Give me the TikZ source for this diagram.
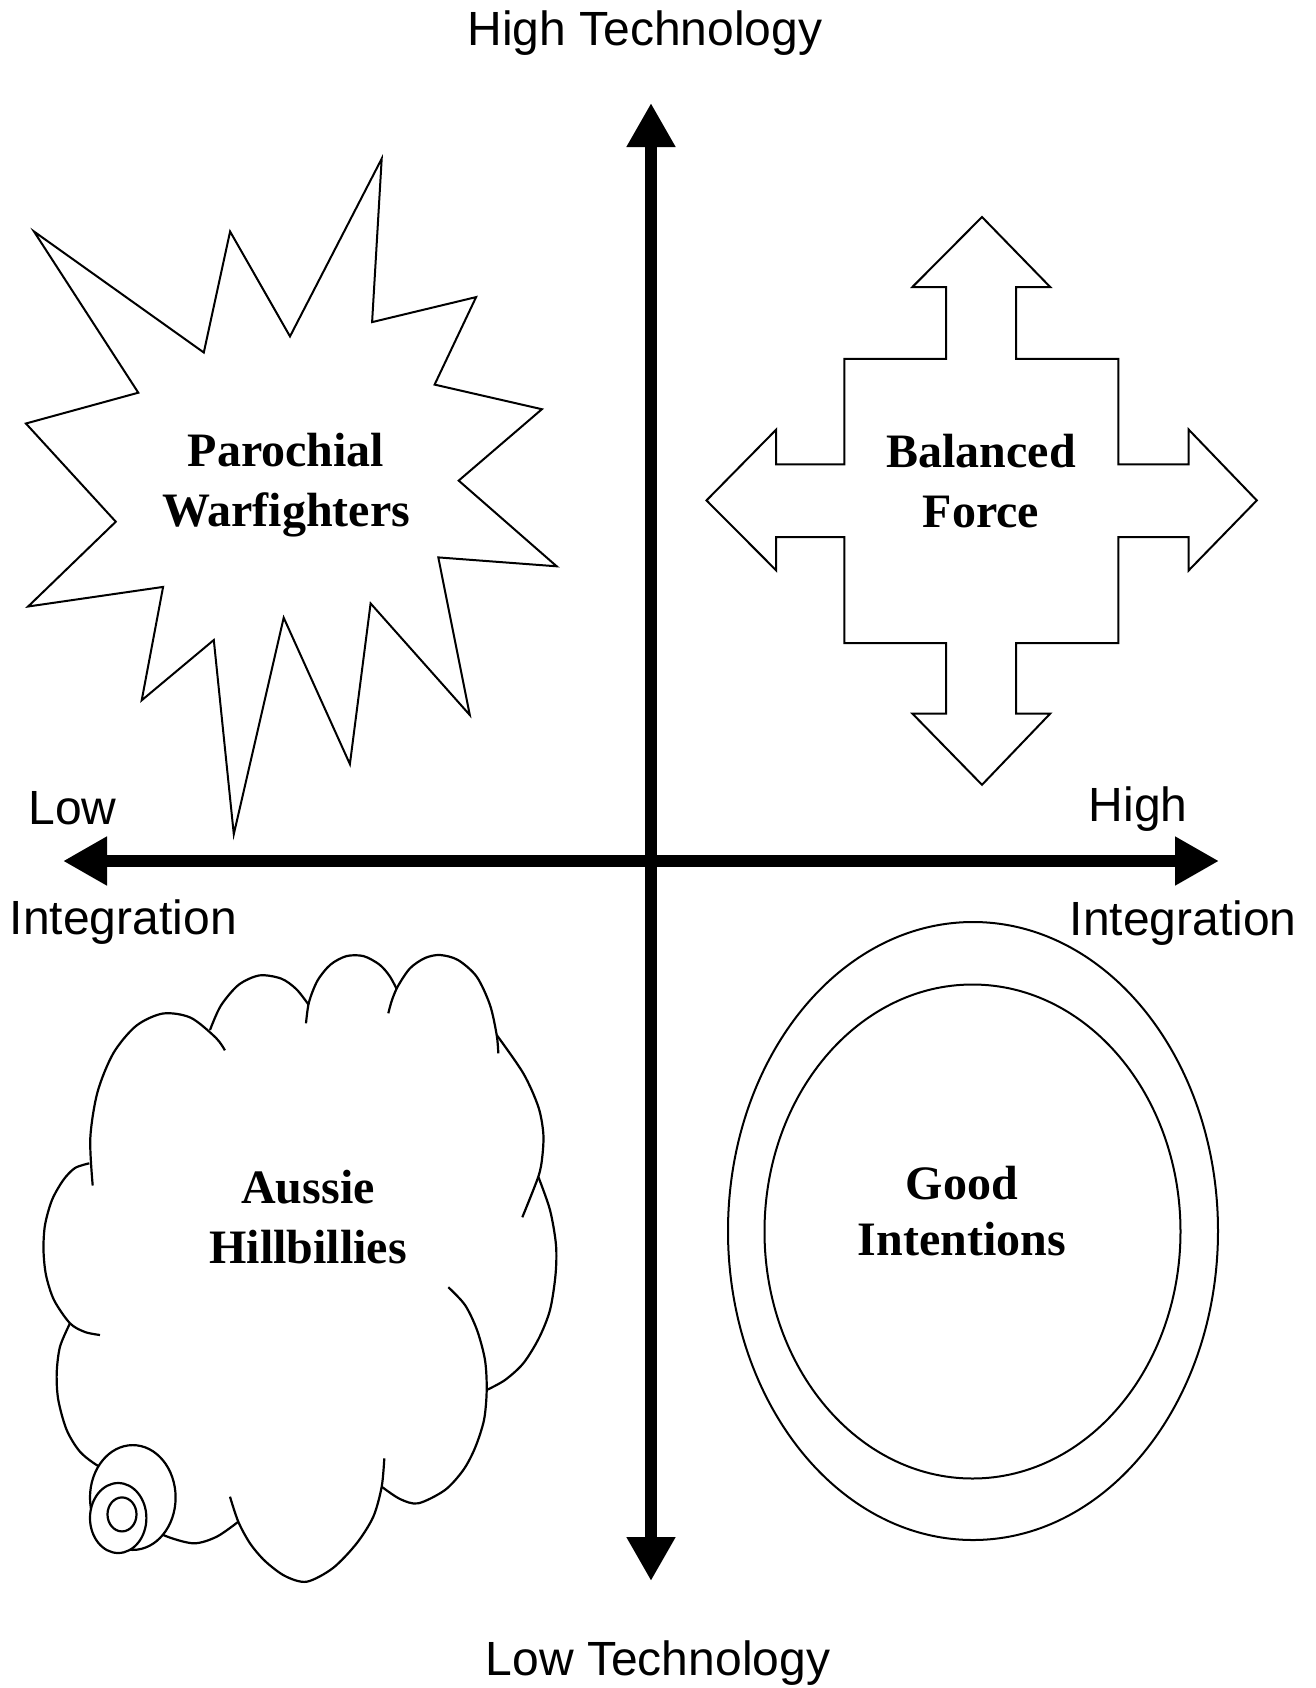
\documentclass[tikz,border=0pt]{standalone}
\usepackage{fontspec}
\setmainfont{Liberation Serif}
\newfontfamily\axisfont{Liberation Sans}
\usetikzlibrary{arrows.meta}
\newcommand\twolines[2]{\vtop{\halign{\hfil##\hfil\cr#1\cr#2\cr}}}
\begin{document}
\begin{tikzpicture}[x=0.5pt,y=-0.5pt,
  axis/.style={line width=6pt,{Triangle[length=22pt,width=23pt]}-{Triangle[length=22pt,width=23pt]}},
  axislabel/.style={font=\axisfont\fontsize{24}{29}\selectfont,inner sep=0pt},
  quadlabel/.style={font=\bfseries\fontsize{24}{30}\selectfont,inner sep=0pt,anchor=base},
  outline/.style={line width=1pt,line join=miter},
  cloudline/.style={line width=1.1pt},
  ovalline/.style={line width=1.1pt,fill=white}]
\useasboundingbox (0,0) rectangle (1316,1688);
\fill[white] (0,0) rectangle (1316,1688);

% axes
\coordinate (T) at (651,103);
\coordinate (B) at (651,1581);
\coordinate (L) at (63,861);
\coordinate (R) at (1219,861);
\draw[axis] (T) -- (B);
\draw[axis] (L) -- (R);

% axis labels
\node[axislabel,anchor=base] (hightech) at (645,45) {High Technology};
\node[axislabel,anchor=base] (lowtech) at (658,1675) {Low Technology};
\node[axislabel,anchor=base west] (lowlbl) at (28,824) {Low};
\node[axislabel,anchor=base west] (lowint) at (9.5,934) {Integration};
\node[axislabel,anchor=base east] (highlbl) at (1188,821) {High};
\node[axislabel,anchor=base east] (highint) at (1297,935) {Integration};

% star
\draw[outline] (34,231.5) -- (203.8,352.5) -- (230.1,231.5) -- (290,336.4)
  -- (381.7,158.7) -- (372.1,322.1) -- (476.1,297.1) -- (434.6,384.6)
  -- (541.9,409.2) -- (458.7,480.6) -- (556.7,566.3) -- (438.3,557.4)
  -- (469.8,715) -- (370.6,603.4) -- (349.9,764.1) -- (283.7,617.7)
  -- (233.8,834.2) -- (213.8,640) -- (141.7,700.3) -- (163.1,586.9)
  -- (28.1,606.5) -- (115.8,521.7) -- (25.9,423.5) -- (138.3,392.7) -- cycle;
\node[quadlabel] (paro) at (286,466) {\twolines{Parochial}{Warfighters}};

% four-way arrow
\draw[outline] (982,217) -- (1050.2,287) -- (1016.1,287) -- (1016.1,358.8)
  -- (1118.3,358.8) -- (1118.3,464.4) -- (1188.7,464.4) -- (1188.7,429.6)
  -- (1256.8,500.4) -- (1188.7,570.4) -- (1188.7,537.2) -- (1118.3,537.2)
  -- (1118.3,643.2) -- (1016.1,643.2) -- (1016.1,713.6) -- (1050.2,713.6)
  -- (982,784.8) -- (912.4,713.6) -- (946.1,713.6) -- (946.1,643.2)
  -- (844.3,643.2) -- (844.3,537.2) -- (776.2,537.2) -- (776.2,570.4)
  -- (706.5,500.4) -- (776.2,429.6) -- (776.2,464.4) -- (844.3,464.4)
  -- (844.3,358.8) -- (946.1,358.8) -- (946.1,287) -- (912.4,287) -- cycle;
\node[quadlabel] (bal) at (981,467) {\twolines{Balanced}{Force}};

% double ellipse
\draw[outline] (973,1231) ellipse [x radius=245, y radius=309];
\draw[outline] (972.5,1231.5) ellipse [x radius=208, y radius=247];
\node[quadlabel,font=\bfseries\fontsize{24}{28}\selectfont] (good) at (962,1199) {\twolines{Good}{Intentions}};

% cloud lobes
\draw[cloudline] plot[smooth] coordinates {(92.7,1185.5) (90.3,1138.1) (97.5,1092.1) (113.4,1053.1) (136.2,1025.8) (163.0,1013.5) (190.7,1017.7) (215.9,1037.8) (224.9,1050.3)};
\draw[cloudline] plot[smooth] coordinates {(210.0,1030.0) (220.7,1005.9) (238.5,984.9) (259.5,975.4) (281.2,978.6) (296.3,989.1) (308.5,1004.6)};
\draw[cloudline] plot[smooth] coordinates {(306.0,1023.3) (309.0,1002.1) (317.5,980.6) (330.5,964.6) (346.5,956.1) (363.5,956.1) (379.5,964.6) (389.6,976.0) (396.8,989.2)};
\draw[cloudline] plot[smooth] coordinates {(388.3,1013.3) (392,1000) (398,986) (410,968.3) (425,958) (440,955) (458,960) (476.7,976.7) (490,1005) (496.7,1035) (498.3,1053.3)};
\draw[cloudline] plot[smooth] coordinates {(496.7,1035) (523.3,1073.3) (538.3,1106.7) (543.3,1133.3) (542.3,1156.7) (538.3,1176.7) (522.3,1217.3)};
\draw[cloudline] plot[smooth] coordinates {(538.3,1176.7) (550,1210) (556,1245) (555.5,1275) (550,1310) (539,1338) (523.3,1363.3) (505,1380) (486.7,1390)};
\draw[cloudline] plot[smooth] coordinates {(448.3,1287.2) (465,1305) (477,1330) (485,1360) (486.7,1390) (484,1420) (475,1448) (463.3,1470) (445,1490) (418.3,1503.3) (400,1499) (381.7,1486.7)};
\draw[cloudline] plot[smooth] coordinates {(384.3,1458.3) (381.7,1486.7) (373.3,1516.7) (356.7,1543.3) (333,1568) (306.7,1581.7) (285,1576) (265,1561) (250,1543.3) (238.3,1521.7) (230,1496.7)};
\draw[cloudline] plot[smooth] coordinates {(238.3,1521.7) (216.7,1536.7) (193.3,1543.3) (163.3,1535) (145,1522)};
\draw[cloudline] plot[smooth] coordinates {(70,1323.3) (60,1346.7) (56.7,1373.3) (58.3,1400) (66.7,1430) (80,1451.7) (98.3,1466) (115,1472)};
\draw[cloudline] plot[smooth] coordinates {(89.3,1163.3) (75,1168) (63.3,1180) (52,1200) (45,1225) (43.5,1250) (46,1275) (54,1300) (70,1323.3) (85,1332) (100,1335)};
% tail ovals
\draw[ovalline] (132.8,1497.5) ellipse [x radius=42.8, y radius=52.4];
\draw[ovalline] (118.2,1518) ellipse [x radius=28.2, y radius=35];
\draw[ovalline] (122,1514.4) ellipse [x radius=14.5, y radius=17];
\node[quadlabel] (aussie) at (308,1203) {\twolines{Aussie}{Hillbillies}};
\end{tikzpicture}
\end{document}
